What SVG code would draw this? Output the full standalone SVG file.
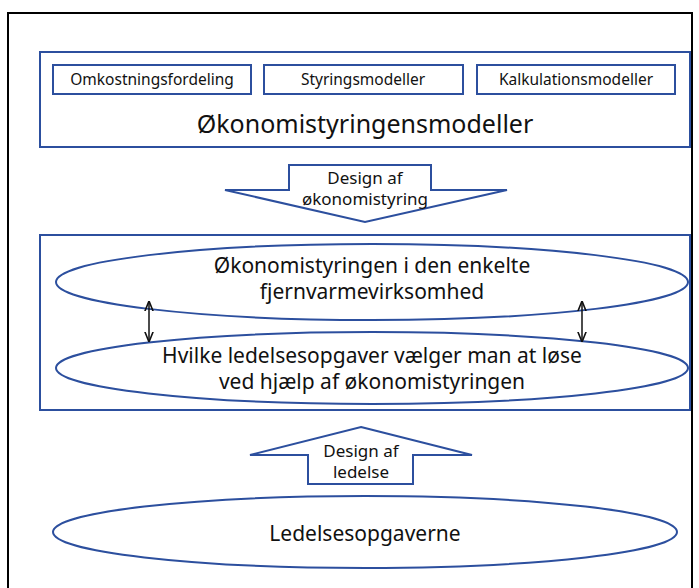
<svg xmlns="http://www.w3.org/2000/svg" width="699" height="588" viewBox="0 0 699 588">
<style>
.b{fill:#fff;stroke:#2c4f9e;stroke-width:2}
.t{font-family:"Noto Sans",sans-serif;fill:#111;text-anchor:middle}
.s{font-size:15.5px}
.m{font-size:17px}
.l{font-size:21px}
.x{font-size:25px}
</style>
<defs>
<marker id="ah" viewBox="0 0 10 10" refX="9" refY="5" markerWidth="7" markerHeight="7" orient="auto-start-reverse"><path d="M0,1 L10,5 L0,9" fill="none" stroke="#111" stroke-width="1.5"/></marker>
</defs>
<rect width="699" height="588" fill="#fff"/>
<rect x="8" y="13" width="684" height="590" fill="none" stroke="#000" stroke-width="2"/>
<g id="models">
<rect class="b" x="40" y="52" width="650" height="95"/>
<text class="t x" x="365" y="133">Økonomistyringensmodeller</text>
</g>
<g id="omk"><rect class="b" x="53" y="65" width="198" height="29"/><text class="t s" x="152" y="85">Omkostningsfordeling</text></g>
<g id="sty"><rect class="b" x="264" y="65" width="199" height="29"/><text class="t s" x="363" y="85">Styringsmodeller</text></g>
<g id="kalk"><rect class="b" x="477" y="65" width="198" height="29"/><text class="t s" x="576" y="85">Kalkulationsmodeller</text></g>
<g id="design-oko">
<path class="b" d="M289,165 H431 V190 H507 L365,222 L225,190 H289 Z"/>
<text class="t m" x="365" y="184">Design af</text>
<text class="t m" x="365" y="205">økonomistyring</text>
</g>
<g id="mid">
<rect class="b" x="40" y="235" width="650" height="175"/>
</g>
<g id="oko">
<ellipse class="b" cx="372" cy="282" rx="316" ry="38"/>
<text class="t l" x="372" y="273">Økonomistyringen i den enkelte</text>
<text class="t l" x="372" y="298.5">fjernvarmevirksomhed</text>
</g>
<g id="hvilke">
<ellipse class="b" cx="372" cy="368" rx="316" ry="36"/>
<text class="t l" x="372" y="363">Hvilke ledelsesopgaver vælger man at løse</text>
<text class="t l" x="372" y="388.5">ved hjælp af økonomistyringen</text>
</g>
<g id="design-led">
<path class="b" d="M361,427 L472,455 H413 V484 H308 V455 H250 Z"/>
<text class="t m" x="361" y="457">Design af</text>
<text class="t m" x="361" y="478">ledelse</text>
</g>
<g id="led">
<ellipse class="b" cx="365" cy="532" rx="312" ry="36"/>
<text class="t l" x="365" y="541">Ledelsesopgaverne</text>
</g>
<g id="connectors">
<line x1="149" y1="302" x2="149" y2="341" stroke="#111" stroke-width="1.5" marker-start="url(#ah)" marker-end="url(#ah)"/>
<line x1="582" y1="302" x2="582" y2="341" stroke="#111" stroke-width="1.5" marker-start="url(#ah)" marker-end="url(#ah)"/>
</g>
</svg>
